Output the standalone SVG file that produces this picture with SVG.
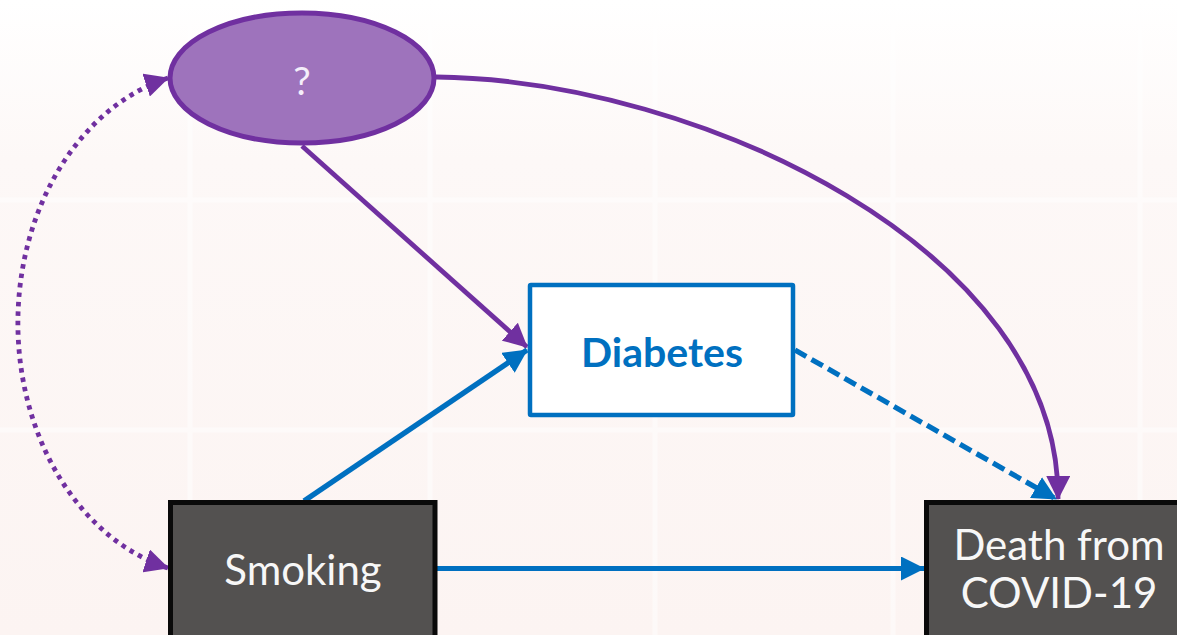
<svg xmlns="http://www.w3.org/2000/svg" width="1177" height="635" viewBox="0 0 1177 635">
  <style>
    .lbl { font-family: Lato, "Open Sans", "Liberation Sans", sans-serif; text-anchor: middle; }
    .dark { fill: #535150; stroke: #0a0a0a; stroke-width: 5; }
    .blue-line { fill: none; stroke: #0070C0; stroke-width: 5.2; }
    .purple-line { fill: none; stroke: #7030A0; stroke-width: 4.8; }
    .grid { stroke: #ffffff; stroke-width: 5; opacity: 0.5; }
  </style>
  <defs>
    <linearGradient id="bg" x1="0" y1="0" x2="0" y2="1">
      <stop offset="0" stop-color="#ffffff"/>
      <stop offset="0.25" stop-color="#fdf8f7"/>
      <stop offset="1" stop-color="#fcf4f2"/>
    </linearGradient>
    <marker id="arrow-blue" markerUnits="userSpaceOnUse" viewBox="0 0 24 24" markerWidth="24" markerHeight="24" refX="23" refY="12" orient="auto">
      <path d="M0,0 L24,12 L0,24 z" fill="#0070C0"/>
    </marker>
    <marker id="arrow-purple" markerUnits="userSpaceOnUse" viewBox="0 0 24 24" markerWidth="24" markerHeight="24" refX="23" refY="12" orient="auto-start-reverse">
      <path d="M0,0 L24,12 L0,24 z" fill="#7030A0"/>
    </marker>
  </defs>

  <!-- backdrop -->
  <rect width="1177" height="635" fill="url(#bg)"/>
  <g class="grid">
    <line x1="0" y1="200" x2="1177" y2="200"/>
    <line x1="0" y1="430" x2="1177" y2="430"/>
    <line x1="190" y1="0" x2="190" y2="635"/>
    <line x1="430" y1="0" x2="430" y2="635"/>
    <line x1="655" y1="0" x2="655" y2="635"/>
    <line x1="893" y1="0" x2="893" y2="635"/>
    <line x1="1140" y1="0" x2="1140" y2="635"/>
  </g>

  <!-- connectors -->
  <g id="connectors">
    <path class="purple-line" d="M168,78 A200 253 0 0 0 168,568" stroke-dasharray="4.5 5" marker-start="url(#arrow-purple)" marker-end="url(#arrow-purple)"/>
    <path class="purple-line" d="M436,77 C700,80 1060,250 1058,499" marker-end="url(#arrow-purple)"/>
    <line class="purple-line" x1="302" y1="146" x2="527" y2="347" marker-end="url(#arrow-purple)"/>
    <line class="blue-line" x1="304" y1="501" x2="527" y2="350" marker-end="url(#arrow-blue)"/>
    <line class="blue-line" x1="795" y1="350" x2="1056" y2="499" stroke-dasharray="13 6" marker-end="url(#arrow-blue)"/>
    <line class="blue-line" x1="437" y1="568.5" x2="924" y2="568.5" marker-end="url(#arrow-blue)"/>
  </g>

  <!-- unknown factor -->
  <g id="node-unknown">
    <ellipse cx="302" cy="78" rx="132" ry="65" fill="#9E73BC" stroke="#7030A0" stroke-width="5"/>
    <text class="lbl" x="302" y="95" font-size="39" fill="#f4eefa">?</text>
  </g>

  <!-- diabetes -->
  <g id="node-diabetes">
    <rect x="530" y="285" width="263" height="130" rx="1" fill="#ffffff" stroke="#0070C0" stroke-width="4.5"/>
    <text class="lbl" x="662" y="367" font-size="41" font-weight="bold" fill="#0070C0">Diabetes</text>
  </g>

  <!-- smoking -->
  <g id="node-smoking">
    <rect class="dark" x="170.5" y="502.5" width="264.5" height="150"/>
    <text class="lbl" x="303" y="585" font-size="42" fill="#f7f7f7">Smoking</text>
  </g>

  <!-- outcome -->
  <g id="node-death">
    <rect class="dark" x="926.5" y="502.5" width="270" height="150"/>
    <text class="lbl" x="1059" y="560" font-size="42" fill="#f7f7f7">Death from</text>
    <text class="lbl" x="1059" y="608" font-size="42" fill="#f7f7f7">COVID-19</text>
  </g>
</svg>
